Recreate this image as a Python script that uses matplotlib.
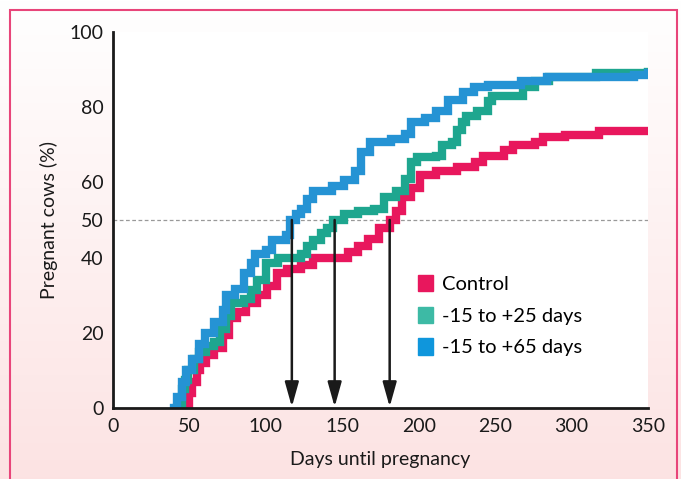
import numpy as np
import matplotlib.pyplot as plt
from matplotlib.patches import Rectangle, Patch

# step curves (day, % pregnant)
ctrl_days = [47, 50, 52, 55, 57, 61, 66, 72, 76, 81, 87, 94, 101, 107, 114, 123, 131, 145,
             154, 160, 167, 174, 181, 185, 189, 195, 201, 211, 225, 237, 242, 256,
             262, 276, 281, 296, 318, 350]
ctrl_pct = [0, 4, 7, 10, 12, 14, 16, 19.5, 24, 25.5, 28, 30, 32.5, 36, 37, 38, 40, 40,
            41.5, 43, 45, 48, 50, 52.5, 56, 58.5, 62, 63, 64, 65.5, 67, 68.5,
            70, 70.7, 72, 72.5, 73.7, 73.7]

t25_days = [42, 45, 47, 49, 53, 56, 61, 66, 70, 74, 77, 86, 90, 94, 100, 108, 123,
            127, 131, 136, 140, 144, 151, 160, 171, 177, 185, 191, 195, 199, 211,
            215, 222, 225, 228, 231, 238, 245, 248, 264, 268, 276, 285, 316, 350]
t25_pct = [0, 5, 7.5, 10, 13, 15, 16.5, 17.5, 21, 24.5, 28, 29, 31.5, 34, 38.5, 40, 41,
           43, 44.6, 46.5, 48, 50, 51.5, 52.4, 53, 56, 57.7, 61, 65.5, 66.8, 67,
           70, 70.7, 74, 76, 77.6, 79, 81.6, 83, 83, 85.5, 87, 88, 89, 89.4]

t65_days = [40, 42, 45, 48, 52, 56, 60, 66, 72, 74, 80, 86, 90, 93, 100, 104,
            113, 116, 120, 123, 127, 131, 143, 151, 158, 162, 168, 182, 191, 195,
            204, 211, 219, 229, 236, 245, 267, 284, 341, 350]
t65_pct = [0, 3, 7, 10, 13, 17, 20, 23, 26, 30, 31.6, 36, 38.5, 41, 42, 44.6,
           46, 50, 51.5, 53, 55.5, 57.6, 59, 60.7, 63, 68, 70.7, 71.5, 73, 76,
           77, 79, 82, 84, 85.5, 86, 87, 88, 88.5, 89]

median_days = [117, 145, 181]

x_ticks = [0, 50, 100, 150, 200, 250, 300, 350]
y_ticks = [0, 20, 40, 50, 60, 80, 100]

c_ctrl = '#e8175d'
c_25 = '#1ea68f'
c_65 = '#2593d4'

plt.rcParams['font.family'] = ['Lato', 'DejaVu Sans']

W, H = 681, 479
fig = plt.figure(figsize=(W / 100, H / 100), dpi=100)

# pink gradient background
bg = fig.add_axes([0, 0, 1, 1], zorder=-2)
grad = np.linspace(0, 1, 256).reshape(-1, 1)
top = np.array([1.0, 1.0, 1.0])
bot = np.array([0.99, 0.89, 0.89])
img = top + (bot - top) * grad[..., None]
bg.imshow(img, aspect='auto', extent=[0, 1, 0, 1], origin='upper')
bg.axis('off')
fig.patches.append(Rectangle((10 / W, -0.05), (677 - 10) / W, 1.05 - 10 / H,
                             transform=fig.transFigure, fill=False,
                             edgecolor='#e8457a', linewidth=1.5, zorder=5))

ax = fig.add_axes([113 / W, 1 - 408 / H, (648 - 113) / W, (408 - 32) / H])
ax.set_facecolor('white')

ax.plot(ctrl_days, ctrl_pct, drawstyle='steps-post', color=c_ctrl, lw=6,
        solid_joinstyle='miter', zorder=3)
ax.plot(t25_days, t25_pct, drawstyle='steps-post', color=c_25, lw=6,
        solid_joinstyle='miter', zorder=4)
ax.plot(t65_days, t65_pct, drawstyle='steps-post', color=c_65, lw=6,
        solid_joinstyle='miter', zorder=5)

ax.axhline(50, color='#999999', lw=0.9, ls=(0, (3, 2)), zorder=2)

for d in median_days:
    ax.annotate('', xy=(d, 0.3), xytext=(d, 50),
                arrowprops=dict(arrowstyle='-|>,head_length=1.5,head_width=0.42',
                                color='#1a1a1a', lw=1.8, shrinkA=0, shrinkB=0),
                zorder=6)

ax.set_xlim(0, 350)
ax.set_ylim(0, 100)
ax.set_xticks(x_ticks)
ax.set_yticks(y_ticks)
ax.tick_params(length=0, labelsize=14, colors='#1a1a1a', pad=7)
for s in ['top', 'right']:
    ax.spines[s].set_visible(False)
for s in ['left', 'bottom']:
    ax.spines[s].set_linewidth(2)
    ax.spines[s].set_color('#1a1a1a')
    s_obj = ax.spines[s]
    s_obj.set_zorder(7)

ax.set_xlabel('Days until pregnancy', fontsize=14, color='#1a1a1a', labelpad=12)
ax.set_ylabel('Pregnant cows (%)', fontsize=14, color='#1a1a1a', labelpad=8)

handles = [Patch(color=c_ctrl, label='Control'),
           Patch(color='#3dbaa5', label='-15 to +25 days'),
           Patch(color='#0f96dc', label='-15 to +65 days')]
ax.legend(handles=handles, loc='upper left', bbox_to_anchor=(0.555, 0.375),
          frameon=False, fontsize=14.5, handlelength=0.75, handleheight=0.85,
          handletextpad=0.45, labelspacing=0.68, borderaxespad=0)

fig.savefig('out.png', dpi=100)
